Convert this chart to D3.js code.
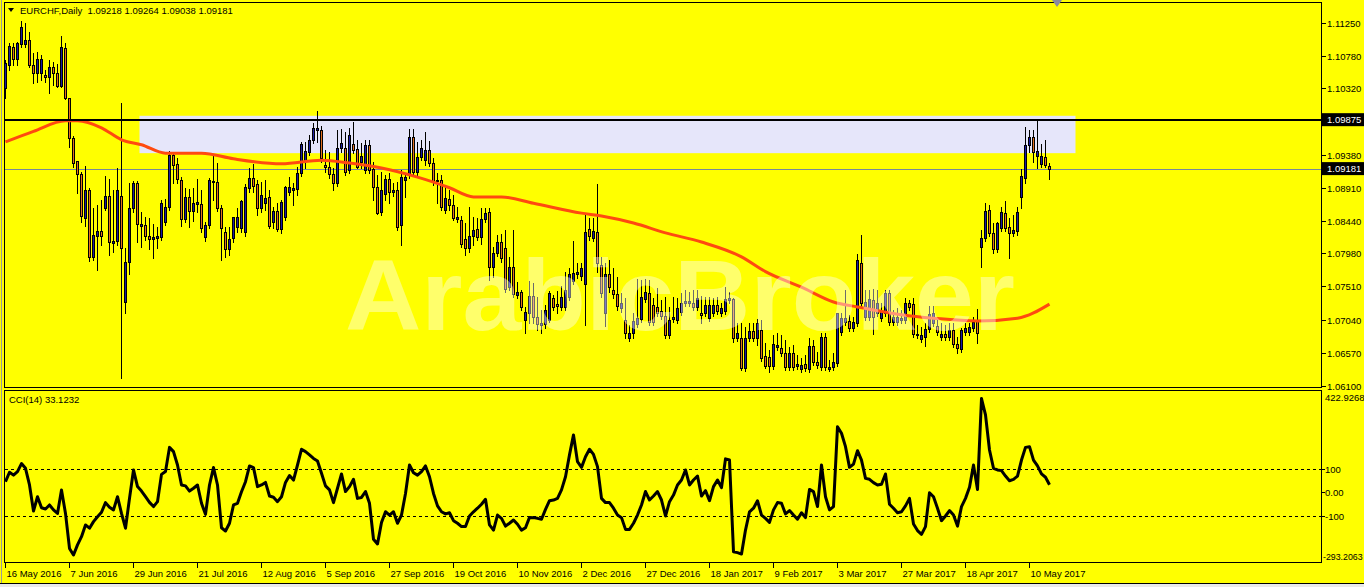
<!DOCTYPE html>
<html><head><meta charset="utf-8">
<script src="https://cdn.jsdelivr.net/npm/d3@7"></script>
<style>html,body{margin:0;padding:0;background:#ffff00;overflow:hidden}</style>
</head><body><svg id="c" width="1364" height="587" xmlns="http://www.w3.org/2000/svg"></svg>
<script>
// ---------------- DATA ----------------
const chartTitle = "EURCHF,Daily";
const lastQuote = ["1.09218", "1.09264", "1.09038", "1.09181"];
const indicatorTitle = "CCI(14) 33.1232";
const watermark = "ArabicBroker";

const opens = [1.1033,1.1065,1.1091,1.1074,1.1095,1.1095,1.1100,1.1065,1.1054,1.1054,
1.1051,1.1048,1.1062,1.1054,1.1035,1.1089,1.1018,1.0962,1.0929,1.0910,
1.0848,1.0888,1.0793,1.0823,1.0830,1.0862,1.0879,1.0813,1.0815,1.0879,
1.0729,1.0786,1.0862,1.0898,1.0837,1.0838,1.0823,1.0818,1.0820,1.0821,
1.0842,1.0864,1.0937,1.0925,1.0902,1.0847,1.0878,1.0858,1.0868,1.0868,
1.0821,1.0838,1.0901,1.0899,1.0862,1.0828,1.0804,1.0820,1.0835,1.0834,
1.0828,1.0891,1.0905,1.0896,1.0862,1.0869,1.0878,1.0842,1.0858,1.0832,
1.0850,1.0885,1.0888,1.0889,1.0912,1.0930,1.0942,1.0959,1.0973,1.0973,
1.0923,1.0920,1.0910,1.0898,1.0947,1.0947,1.0916,1.0953,1.0946,1.0928,
1.0916,1.0952,1.0918,1.0892,1.0857,1.0882,1.0903,1.0885,1.0888,1.0838,
1.0902,1.0909,1.0963,1.0913,1.0935,1.0930,1.0945,1.0926,1.0902,1.0902,
1.0859,1.0875,1.0866,1.0847,1.0845,1.0818,1.0806,1.0823,1.0832,1.0821,
1.0847,1.0857,1.0779,1.0798,1.0814,1.0806,1.0750,1.0779,1.0739,1.0743,
1.0703,1.0713,1.0737,1.0708,1.0696,1.0698,1.0703,1.0735,1.0726,1.0722,
1.0722,1.0736,1.0759,1.0769,1.0766,1.0755,1.0832,1.0820,1.0828,1.0781,
1.0713,1.0769,1.0746,1.0740,1.0721,1.0703,1.0678,1.0685,1.0698,1.0705,
1.0733,1.0742,1.0725,1.0722,1.0716,1.0709,1.0682,1.0705,1.0703,1.0715,
1.0728,1.0728,1.0728,1.0722,1.0713,1.0713,1.0706,1.0713,1.0725,1.0713,
1.0716,1.0732,1.0733,1.0678,1.0678,1.0635,1.0678,1.0688,1.0678,1.0689,
1.0652,1.0651,1.0638,1.0665,1.0664,1.0657,1.0637,1.0657,1.0638,1.0634,
1.0641,1.0634,1.0667,1.0644,1.0637,1.0679,1.0634,1.0637,1.0642,1.0686,
1.0701,1.0702,1.0692,1.0699,1.0784,1.0708,1.0708,1.0732,1.0713,1.0706,
1.0713,1.0742,1.0701,1.0701,1.0703,1.0703,1.0728,1.0726,1.0684,1.0677,
1.0679,1.0691,1.0699,1.0695,1.0679,1.0684,1.0679,1.0689,1.0669,1.0662,
1.0686,1.0686,1.0692,1.0703,1.0807,1.0820,1.0859,1.0827,1.0804,1.0834,
1.0855,1.0835,1.0827,1.0830,1.0878,1.0905,1.0952,1.0963,1.0936,1.0925,
1.0935,1.09218];

const highs = [1.1072,1.1096,1.1096,1.1098,1.1127,1.1124,1.1112,1.1082,1.1083,1.1079,
1.1058,1.1072,1.1069,1.1066,1.1106,1.1096,1.1018,1.0964,1.0929,1.0913,
1.0922,1.0891,1.0862,1.0867,1.0874,1.0908,1.0903,1.0888,1.0919,1.1011,
1.0806,1.0898,1.0901,1.0901,1.0857,1.0850,1.0848,1.0840,1.0835,1.0874,
1.0875,1.0943,1.0942,1.0933,1.0906,1.0891,1.0889,1.0891,1.0903,1.0888,
1.0842,1.0905,1.0937,1.0926,1.0866,1.0835,1.0835,1.0850,1.0862,1.0874,
1.0896,1.0919,1.0925,1.0902,1.0899,1.0902,1.0888,1.0864,1.0869,1.0874,
1.0894,1.0906,1.0898,1.0920,1.0956,1.0956,1.0966,1.0983,1.1000,1.0979,
1.0945,1.0942,1.0919,1.0973,1.0974,1.0970,1.0976,1.0984,1.0959,1.0954,
1.0959,1.0959,1.0928,1.0909,1.0913,1.0909,1.0912,1.0898,1.0899,1.0916,
1.0912,1.0974,1.0974,1.0956,1.0959,1.0970,1.0957,1.0933,1.0912,1.0909,
1.0892,1.0888,1.0881,1.0864,1.0851,1.0841,1.0864,1.0850,1.0848,1.0862,
1.0862,1.0862,1.0807,1.0824,1.0825,1.0831,1.0793,1.0831,1.0757,1.0746,
1.0722,1.0759,1.0756,1.0736,1.0718,1.0725,1.0745,1.0739,1.0745,1.0752,
1.0772,1.0777,1.0816,1.0784,1.0784,1.0852,1.0848,1.0848,1.0896,1.0793,
1.0784,1.0789,1.0777,1.0764,1.0742,1.0735,1.0696,1.0713,1.0762,1.0760,
1.0762,1.0760,1.0735,1.0749,1.0732,1.0736,1.0722,1.0736,1.0735,1.0742,
1.0746,1.0743,1.0746,1.0746,1.0737,1.0736,1.0736,1.0735,1.0736,1.0728,
1.0750,1.0743,1.0735,1.0699,1.0699,1.0694,1.0699,1.0699,1.0705,1.0703,
1.0671,1.0661,1.0682,1.0685,1.0682,1.0675,1.0665,1.0668,1.0654,1.0650,
1.0654,1.0678,1.0675,1.0658,1.0685,1.0685,1.0647,1.0657,1.0713,1.0713,
1.0746,1.0711,1.0708,1.0797,1.0824,1.0746,1.0746,1.0747,1.0746,1.0728,
1.0746,1.0746,1.0718,1.0721,1.0718,1.0735,1.0732,1.0735,1.0696,1.0694,
1.0699,1.0723,1.0723,1.0708,1.0699,1.0696,1.0699,1.0699,1.0679,1.0692,
1.0699,1.0699,1.0708,1.0719,1.0831,1.0869,1.0866,1.0841,1.0842,1.0864,
1.0872,1.0848,1.0852,1.0864,1.0918,1.0977,1.0973,1.0973,1.0988,1.0953,
1.0959,1.09264];

const lows = [1.1018,1.1058,1.1065,1.1065,1.1091,1.1091,1.1062,1.1040,1.1041,1.1044,
1.1041,1.1025,1.1037,1.1034,1.1034,1.1017,1.0949,1.0920,1.0884,1.0842,
1.0837,1.0787,1.0789,1.0774,1.0810,1.0859,1.0796,1.0800,1.0810,1.0621,
1.0713,1.0769,1.0857,1.0814,1.0807,1.0817,1.0804,1.0791,1.0806,1.0817,
1.0838,1.0859,1.0898,1.0898,1.0837,1.0842,1.0835,1.0844,1.0857,1.0828,
1.0816,1.0834,1.0874,1.0858,1.0789,1.0793,1.0796,1.0814,1.0828,1.0828,
1.0823,1.0885,1.0885,1.0852,1.0857,1.0859,1.0834,1.0834,1.0830,1.0827,
1.0845,1.0881,1.0866,1.0881,1.0908,1.0919,1.0937,1.0954,1.0956,1.0928,
1.0913,1.0905,1.0888,1.0894,1.0942,1.0909,1.0912,1.0940,1.0919,1.0919,
1.0912,1.0912,1.0874,1.0854,1.0852,1.0874,1.0869,1.0879,1.0831,1.0810,
1.0878,1.0905,1.0909,1.0909,1.0930,1.0923,1.0922,1.0895,1.0869,1.0859,
1.0855,1.0859,1.0845,1.0842,1.0807,1.0796,1.0800,1.0810,1.0817,1.0811,
1.0842,1.0760,1.0764,1.0794,1.0786,1.0743,1.0746,1.0736,1.0735,1.0718,
1.0685,1.0699,1.0699,1.0689,1.0685,1.0692,1.0701,1.0718,1.0713,1.0718,
1.0718,1.0732,1.0755,1.0763,1.0760,1.0696,1.0817,1.0816,1.0772,1.0736,
1.0695,1.0743,1.0735,1.0718,1.0715,1.0678,1.0674,1.0678,1.0694,1.0701,
1.0729,1.0696,1.0696,1.0709,1.0705,1.0678,1.0678,1.0701,1.0699,1.0711,
1.0723,1.0723,1.0718,1.0718,1.0699,1.0709,1.0702,1.0709,1.0712,1.0709,
1.0712,1.0728,1.0672,1.0674,1.0633,1.0631,1.0674,1.0674,1.0668,1.0645,
1.0635,1.0630,1.0634,1.0661,1.0652,1.0633,1.0633,1.0633,1.0634,1.0630,
1.0631,1.0630,1.0640,1.0635,1.0633,1.0633,1.0631,1.0633,1.0638,1.0682,
1.0696,1.0688,1.0688,1.0695,1.0723,1.0703,1.0703,1.0684,1.0709,1.0702,
1.0709,1.0696,1.0696,1.0696,1.0699,1.0699,1.0718,1.0679,1.0678,1.0672,
1.0667,1.0686,1.0695,1.0682,1.0675,1.0675,1.0675,1.0665,1.0657,1.0658,
1.0682,1.0682,1.0688,1.0671,1.0779,1.0816,1.0823,1.0798,1.0800,1.0830,
1.0830,1.0791,1.0823,1.0824,1.0862,1.0898,1.0942,1.0928,1.0919,1.0920,
1.0920,1.09038];

const closes = [1.1068,1.1092,1.1074,1.1096,1.1119,1.1100,1.1065,1.1054,1.1074,1.1074,
1.1048,1.1062,1.1054,1.1035,1.1091,1.1018,1.0962,1.0926,1.0910,1.0851,
1.0888,1.0793,1.0824,1.0830,1.0823,1.0879,1.0814,1.0816,1.0888,1.0806,
1.0786,1.0862,1.0898,1.0840,1.0840,1.0823,1.0818,1.0821,1.0823,1.0869,
1.0864,1.0937,1.0923,1.0903,1.0847,1.0878,1.0858,1.0869,1.0871,1.0834,
1.0838,1.0902,1.0899,1.0862,1.0834,1.0804,1.0818,1.0850,1.0850,1.0872,
1.0892,1.0905,1.0894,1.0862,1.0881,1.0877,1.0837,1.0858,1.0832,1.0871,
1.0892,1.0892,1.0891,1.0912,1.0953,1.0943,1.0959,1.0976,1.0976,1.0933,
1.0920,1.0910,1.0898,1.0947,1.0954,1.0913,1.0966,1.0945,1.0920,1.0936,
1.0952,1.0916,1.0892,1.0855,1.0888,1.0903,1.0885,1.0888,1.0835,1.0906,
1.0906,1.0963,1.0913,1.0935,1.0947,1.0945,1.0926,1.0899,1.0901,1.0864,
1.0877,1.0866,1.0848,1.0850,1.0811,1.0806,1.0823,1.0831,1.0821,1.0847,
1.0855,1.0779,1.0798,1.0814,1.0791,1.0747,1.0779,1.0740,1.0743,1.0722,
1.0715,1.0737,1.0708,1.0698,1.0699,1.0718,1.0742,1.0722,1.0723,1.0736,
1.0746,1.0769,1.0770,1.0772,1.0777,1.0828,1.0823,1.0830,1.0784,1.0742,
1.0769,1.0750,1.0740,1.0723,1.0728,1.0685,1.0685,1.0702,1.0706,1.0736,
1.0743,1.0701,1.0701,1.0713,1.0709,1.0682,1.0703,1.0708,1.0721,1.0728,
1.0730,1.0730,1.0722,1.0735,1.0711,1.0725,1.0725,1.0725,1.0716,1.0721,
1.0733,1.0735,1.0678,1.0685,1.0635,1.0678,1.0688,1.0678,1.0699,1.0650,
1.0638,1.0638,1.0669,1.0668,1.0657,1.0637,1.0657,1.0637,1.0641,1.0640,
1.0635,1.0667,1.0644,1.0640,1.0679,1.0637,1.0637,1.0644,1.0713,1.0706,
1.0706,1.0692,1.0701,1.0789,1.0728,1.0729,1.0733,1.0708,1.0728,1.0715,
1.0742,1.0701,1.0708,1.0708,1.0706,1.0728,1.0722,1.0684,1.0682,1.0682,
1.0691,1.0712,1.0713,1.0686,1.0684,1.0679,1.0689,1.0669,1.0664,1.0689,
1.0692,1.0694,1.0701,1.0685,1.0820,1.0858,1.0827,1.0804,1.0841,1.0857,
1.0834,1.0827,1.0831,1.0857,1.0908,1.0952,1.0963,1.0942,1.0943,1.0936,
1.0923,1.09181];

const cciValues = [46,86,74,89,123,103,32,-79,-18,-65,
-70,-53,-74,-89,11,-89,-238,-266,-223,-188,
-138,-152,-124,-103,-84,-43,-63,-74,-18,-89,
-152,-25,96,25,6,-18,-42,-60,-39,77,
89,192,174,117,32,28,6,18,32,-46,
-93,32,106,32,-150,-164,-131,-53,-46,3,
46,113,106,25,32,43,-15,-20,-39,-18,
43,72,53,117,184,174,160,145,134,82,
28,11,-43,18,79,4,25,56,-25,-21,
4,-46,-199,-219,-128,-82,-96,-82,-131,-96,
-4,117,84,74,89,113,67,-4,-57,-82,
-91,-86,-120,-131,-145,-145,-100,-82,-67,-50,
-29,-138,-160,-96,-110,-143,-131,-117,-135,-160,
-150,-106,-107,-110,-114,-72,-35,-32,-25,11,
67,160,245,131,107,152,184,162,110,-25,
-43,-43,-67,-96,-107,-157,-157,-131,-96,-53,
4,-32,-15,4,-32,-100,-39,-11,32,53,
96,32,53,70,-15,8,-35,25,53,21,
143,138,-252,-256,-262,-160,-82,-67,-35,-96,
-110,-127,-74,-43,-46,-91,-77,-96,-114,-86,
-107,13,4,-60,117,-18,-74,-60,280,252,
195,107,121,178,138,60,56,42,32,35,
79,-50,-67,-86,-82,-57,-25,-134,-162,-178,
-145,-1,-18,-67,-120,-100,-77,-96,-143,-60,
-25,22,117,13,400,330,181,103,96,93,
70,50,56,70,138,192,195,138,113,79,
65,33];

const maBars   = [0,7,15,18,24,29,34,40,49,57,69,79,86,94,103,111,117,124,132,144,149,157,165,174,184,190,199,207,213,224,232,243,253,261];
const maValues = [1.0956,1.0971,1.0986,1.0986,1.0976,1.0959,1.0952,1.0940,1.0940,1.0932,1.0925,1.0930,1.0926,1.0919,1.0906,1.0891,1.0878,1.0878,1.0869,1.0855,1.0851,1.0841,1.0827,1.0814,1.0793,1.0772,1.0750,1.0729,1.0722,1.0711,1.0706,1.0702,1.0706,1.0726];

const priceTickLabels = ["1.11250","1.10780","1.10320","1.09380","1.08910","1.08440","1.07980","1.07510","1.07040","1.06570","1.06100"];
const resistanceLevel = 1.09875;
const bidLevel = 1.09181;
const zoneTop = 1.0993, zoneBottom = 1.0940, zoneStartBar = 34, zoneEndBar = 268;

const cciLevels = [100, -100];
const cciTickLabels = ["100", "0.00", "-100"];
const cciTickValues = [100, 0, -100];
const cciMaxLabel = "422.9268", cciMinLabel = "-293.2063";
const cciMax = 422.9268, cciMin = -293.2063;

const dateLabels = ["16 May 2016","7 Jun 2016","29 Jun 2016","21 Jul 2016","12 Aug 2016","5 Sep 2016","27 Sep 2016","19 Oct 2016","10 Nov 2016","2 Dec 2016","27 Dec 2016","18 Jan 2017","9 Feb 2017","3 Mar 2017","27 Mar 2017","18 Apr 2017","10 May 2017"];
const dateLabelBars = [0,16,32,48,64,80,96,112,128,144,160,176,192,208,224,240,256];

// ---------------- DRAW ----------------
const FONT = "'Liberation Sans', Arial, sans-serif";
const BULL = "#1c1ca4", BEAR = "#e2701f";
const svg = d3.select("#c");

const x = d3.scaleLinear().domain([0, 261]).range([5.5, 1049.5]);
const y = d3.scaleLinear().domain([1.0610, 1.1125]).range([385.9, 22.7]);
const yc = d3.scaleLinear().domain([cciMin, cciMax]).range([561.4, 393.1]);

svg.append("rect").attr("width", 1364).attr("height", 587).attr("fill", "#ffff00");

const defs = svg.append("defs");
defs.append("clipPath").attr("id", "clipMain").append("rect").attr("x", 5).attr("y", 3).attr("width", 1316).attr("height", 384);
defs.append("clipPath").attr("id", "clipCci").append("rect").attr("x", 5).attr("y", 391).attr("width", 1316).attr("height", 171);

// main panel
const gm = svg.append("g").attr("clip-path", "url(#clipMain)");
gm.append("rect")
  .attr("x", x(zoneStartBar) - 2).attr("y", y(zoneTop))
  .attr("width", x(zoneEndBar) - x(zoneStartBar)).attr("height", y(zoneBottom) - y(zoneTop))
  .attr("fill", "#e6e6fa");
gm.append("line").attr("x1", 5).attr("x2", 1321)
  .attr("y1", Math.round(y(bidLevel)) + 0.5).attr("y2", Math.round(y(bidLevel)) + 0.5)
  .attr("stroke", "#778899").attr("stroke-width", 1);

const idx = d3.range(opens.length);
const gc = gm.append("g").attr("shape-rendering", "crispEdges");
gc.selectAll("line.w").data(idx).join("line")
  .attr("x1", i => x(i)).attr("x2", i => x(i))
  .attr("y1", i => Math.round(y(highs[i]))).attr("y2", i => Math.round(y(lows[i])) + 1)
  .attr("stroke", "#000").attr("stroke-width", 1);
gc.selectAll("rect.b").data(idx).join("rect")
  .attr("x", i => x(i) - 1)
  .attr("y", i => Math.round(y(Math.max(opens[i], closes[i]))) + 0.5)
  .attr("width", 2)
  .attr("height", i => Math.max(Math.round(y(Math.min(opens[i], closes[i]))) - Math.round(y(Math.max(opens[i], closes[i]))), 0.01))
  .attr("fill", i => closes[i] >= opens[i] ? BULL : BEAR)
  .attr("stroke", "#000").attr("stroke-width", 1);

const maLine = d3.line().x(d => x(d[0])).y(d => y(d[1])).curve(d3.curveMonotoneX);
gm.append("path").datum(maBars.map((b, k) => [b, maValues[k]]))
  .attr("d", maLine).attr("fill", "none").attr("stroke", "#ff4a10").attr("stroke-width", 3);

gm.append("line").attr("x1", 5).attr("x2", 1321)
  .attr("y1", Math.round(y(resistanceLevel))).attr("y2", Math.round(y(resistanceLevel)))
  .attr("stroke", "#000").attr("stroke-width", 2);

gm.append("text").text(watermark)
  .attr("x", 345).attr("y", 330)
  .attr("textLength", 670).attr("lengthAdjust", "spacingAndGlyphs")
  .attr("font-family", FONT).attr("font-weight", "bold").attr("font-size", 100)
  .attr("fill", "#ffffff").attr("fill-opacity", 0.42);

// CCI panel
const gi = svg.append("g").attr("clip-path", "url(#clipCci)");
cciLevels.forEach(v => {
  gi.append("line").attr("x1", 5).attr("x2", 1321)
    .attr("y1", Math.round(yc(v)) + 0.5).attr("y2", Math.round(yc(v)) + 0.5)
    .attr("stroke", "#000").attr("stroke-width", 1).attr("stroke-dasharray", "3,3");
});
gi.append("path").datum(cciValues)
  .attr("d", d3.line().x((d, i) => x(i)).y(d => yc(d)))
  .attr("fill", "none").attr("stroke", "#000").attr("stroke-width", 3).attr("stroke-linejoin", "round");

// frames
svg.append("rect").attr("x", 4.5).attr("y", 2.5).attr("width", 1317).attr("height", 385)
  .attr("fill", "none").attr("stroke", "#000");
svg.append("rect").attr("x", 4.5).attr("y", 390.5).attr("width", 1317).attr("height", 172)
  .attr("fill", "none").attr("stroke", "#000");
svg.append("line").attr("x1", 1.5).attr("x2", 1.5).attr("y1", 0).attr("y2", 584).attr("stroke", "#9a9a9a");

// chart shift marker
svg.append("path").attr("d", "M1052,0 L1062,0 L1057,7 Z").attr("fill", "#8a8aa0");

// titles
svg.append("path").attr("d", "M8,8 L14,8 L11,12 Z").attr("fill", "#000");
svg.append("text").attr("x", 20).attr("y", 14).attr("xml:space", "preserve")
  .attr("font-family", FONT).attr("font-size", 9.5).attr("fill", "#000")
  .text(chartTitle + "  " + lastQuote.join(" "));
svg.append("text").attr("x", 9).attr("y", 403)
  .attr("font-family", FONT).attr("font-size", 9.5).attr("fill", "#000")
  .text(indicatorTitle);

// price axis
const ga = svg.append("g").attr("font-family", FONT).attr("font-size", 9.5);
priceTickLabels.forEach(t => {
  const yy = Math.round(y(+t)) + 0.5;
  ga.append("line").attr("x1", 1322).attr("x2", 1326).attr("y1", yy).attr("y2", yy).attr("stroke", "#000");
  ga.append("text").attr("x", 1327).attr("y", yy).attr("dy", "0.35em").attr("fill", "#000").text(t);
});
[[resistanceLevel, "1.09875"], [bidLevel, "1.09181"]].forEach(([v, t]) => {
  const yy = y(v);
  ga.append("rect").attr("x", 1322).attr("y", yy - 6.5).attr("width", 42).attr("height", 13).attr("fill", "#000");
  ga.append("text").attr("x", 1327).attr("y", yy).attr("dy", "0.35em").attr("fill", "#fff").text(t);
});

// CCI axis
cciTickValues.forEach((v, k) => {
  const yy = Math.round(yc(v)) + 0.5;
  ga.append("line").attr("x1", 1322).attr("x2", 1325).attr("y1", yy).attr("y2", yy).attr("stroke", "#000");
  ga.append("text").attr("x", 1325).attr("y", yy).attr("dy", "0.35em").attr("fill", "#000").text(cciTickLabels[k]);
});
ga.append("text").attr("x", 1325).attr("y", 398).attr("dy", "0.35em").attr("fill", "#000").text(cciMaxLabel);
ga.append("text").attr("x", 1323).attr("y", 557).attr("dy", "0.35em").attr("font-size", 8.8).attr("fill", "#000").text(cciMinLabel);

// time axis
dateLabelBars.forEach((b, k) => {
  const xx = Math.floor(x(b)) + 0.5;
  ga.append("line").attr("x1", xx).attr("x2", xx).attr("y1", 563).attr("y2", 568).attr("stroke", "#000");
  ga.append("text").attr("x", xx + 1).attr("y", 577).attr("fill", "#000").text(dateLabels[k]);
});

// bottom strip
svg.append("rect").attr("x", 0).attr("y", 584).attr("width", 1364).attr("height", 3).attr("fill", "#eaeaea");
svg.append("line").attr("x1", 0).attr("x2", 1364).attr("y1", 583.5).attr("y2", 583.5).attr("stroke", "#000");
</script>
</body></html>
